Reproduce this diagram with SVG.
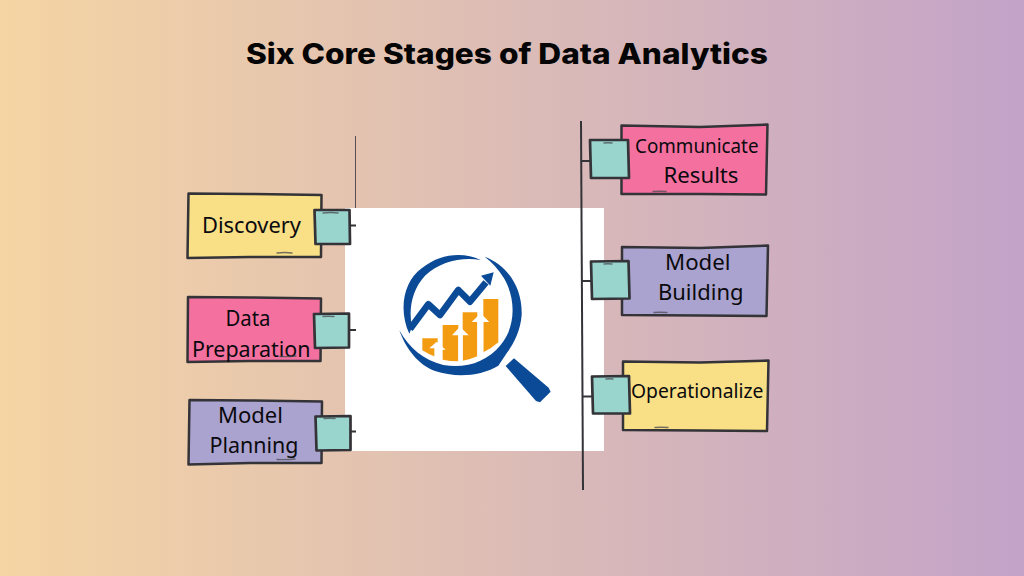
<svg xmlns="http://www.w3.org/2000/svg" width="1024" height="576" viewBox="0 0 1024 576">
<style>
.note{stroke:#333338;stroke-width:2.500;stroke-linejoin:round}
.tab{fill:#99d5cc;stroke:#333338;stroke-width:2.700;stroke-linejoin:round}
.mark{fill:none;stroke:#4a4a50;stroke-width:1.400;stroke-linecap:round;opacity:.75}
.conn{fill:none;stroke:#333338;stroke-width:2}
.yellow{fill:#f9df85}.pink{fill:#f4719f}.violet{fill:#aba3cf}
.lbl{font-family:"Noto Sans","Open Sans",sans-serif;font-size:22px;fill:#0a0a0e}
.title{font-family:Inter,"Liberation Sans",sans-serif;font-weight:800;font-size:28px;fill:#050505}
.blue{fill:#0b4a96}.orange{fill:#f39c12}
</style>
<defs>
<linearGradient id="bg" x1="0" y1="0" x2="1" y2="0">
<stop offset="0" stop-color="#f5d5a3"/><stop offset="1" stop-color="#c3a3c8"/>
</linearGradient>
</defs>
<rect id="background" width="1024" height="576" fill="url(#bg)"/>
<text id="title" class="title" x="246" y="63.500" textLength="522" lengthAdjust="spacingAndGlyphs">Six Core Stages of Data Analytics</text>
<line x1="355.500" y1="136" x2="355.500" y2="210" stroke="#55504f" stroke-width="1"/>
<g id="logo">
<rect x="345" y="208" width="259" height="243" fill="#fff"/>
<g transform="translate(390 245) scale(.3333)">
<path class="blue" d="M58 266C25 195 40 110 95 70C150 25 220 20 272 45C215 35 150 50 105 92C65 135 55 195 66 246Z"/>
<path class="blue" d="M284 35C355 62 398 130 395 210C392 255 372 295 352 322L325 362C270 395 195 398 135 378C85 360 48 312 28 256C58 310 100 345 160 360C225 372 290 352 332 300C378 245 378 160 342 100C325 72 305 50 284 35Z"/>
<polyline points="60,252 115,178 150,210 205,135 240,170 288,112" fill="none" stroke="#0b4a96" stroke-width="20" stroke-linejoin="round"/>
<polygon class="blue" points="273,92 311,82 301,122"/>
<path class="orange" d="M97 280H143V338Q118 330 97 316Z"/>
<path class="orange" d="M158 240H205V349Q180 349 158 344Z"/>
<path class="orange" d="M218 202H262V334Q240 344 218 347Z"/>
<path class="orange" d="M280 162H325V292Q305 310 280 322Z"/>
<polygon points="140,290 167,314 146,314 146,345 133,345 133,310 118,310" fill="#fff"/>
<polygon points="210,245 236,271 218,271 218,352 205,352 205,271 186,271" fill="#fff"/>
<polygon points="272,205 298,231 280,231 280,340 262,340 262,231 245,231" fill="#fff"/>
<polygon class="blue" points="347,363 372,340 476,428 482,440 450,472 438,468"/>
</g>
</g>
<g id="connectors">
<path class="conn" d="M349 225.500H356M349 330H356M350 431.500H356"/>
<path class="conn" d="M581 121L583 490" stroke-width="2.200"/>
<path class="conn" d="M581 161H591M581.500 281H592M582 396.500H593"/>
</g>
<g id="discovery">
<polygon class="note yellow" points="188.500,193.500 250,194 321.500,195 321,257 250,257 187.500,258"/>
<path class="mark" d="M277 253Q285 252 292 253"/>
<polygon class="tab" points="314.500,210 349.500,210 350,244 315.500,244"/>
<path class="mark" d="M323 213Q331 212 338 213" stroke-width="2"/>
<text class="lbl" x="202" y="233" textLength="99" lengthAdjust="spacingAndGlyphs">Discovery</text>
</g>
<g id="data-preparation">
<polygon class="note pink" points="188,297 250,297.500 321,298.500 320.500,361 250,361 187.500,362"/>
<polygon class="tab" points="314,314 349,313.500 349,347.500 315,348"/>
<path class="mark" d="M323 316.500Q328 316 334 316.500" stroke-width="2"/>
<text class="lbl" x="225.500" y="326" textLength="45" lengthAdjust="spacingAndGlyphs">Data</text>
<text class="lbl" x="192" y="357" textLength="118.500" lengthAdjust="spacingAndGlyphs">Preparation</text>
<path class="mark" d="M280 356.500Q288 357 296 356"/>
</g>
<g id="model-planning">
<polygon class="note violet" points="189.500,400 250,400.500 322,401.500 321.500,463 250,463 188.500,464.500"/>
<polygon class="tab" points="315.500,416.500 350.500,416 350.500,450 316.500,450.500"/>
<path class="mark" d="M324 418.500Q329 418 335 418.500" stroke-width="2"/>
<text class="lbl" x="218" y="423" textLength="65" lengthAdjust="spacingAndGlyphs">Model</text>
<text class="lbl" x="209.500" y="453" textLength="89" lengthAdjust="spacingAndGlyphs">Planning</text>
<path class="mark" d="M277 459.500Q286 460 295 459"/>
</g>
<g id="communicate-results">
<polygon class="note pink" points="621.500,125.500 700,127 767.500,124.500 766,194.500 700,194 621.500,194"/>
<path class="mark" d="M653 191.500Q659 191 666 191.500"/>
<polygon class="tab" points="590,140 628,140 629,178 591,178"/>
<path class="mark" d="M604 143Q608 142.500 612 143" stroke-width="2"/>
<text class="lbl" x="635" y="153" textLength="123.500" lengthAdjust="spacingAndGlyphs" style="font-size:20px">Communicate</text>
<text class="lbl" x="663.500" y="183" textLength="75" lengthAdjust="spacingAndGlyphs">Results</text>
</g>
<g id="model-building">
<polygon class="note violet" points="622,247 700,248 768,245.500 766.500,316 700,315.500 622,315"/>
<path class="mark" d="M654 312.500Q660 312 667 312.500"/>
<polygon class="tab" points="591,261.500 628.500,261 629.500,298.500 592,299"/>
<path class="mark" d="M604 264Q608 263.500 612 264" stroke-width="2"/>
<text class="lbl" x="665" y="270" textLength="65.500" lengthAdjust="spacingAndGlyphs">Model</text>
<text class="lbl" x="658" y="300" textLength="85.500" lengthAdjust="spacingAndGlyphs">Building</text>
</g>
<g id="operationalize">
<polygon class="note yellow" points="623,361.500 700,362.500 768.500,360.500 767,431 700,430.500 623,430"/>
<path class="mark" d="M655 427.500Q661 427 668 427.500"/>
<polygon class="tab" points="592,376.500 629,376 630,413.500 593,413.500"/>
<path class="mark" d="M606 379Q609 378.500 613 379" stroke-width="2"/>
<text class="lbl" x="631" y="398" textLength="132.500" lengthAdjust="spacingAndGlyphs" style="font-size:20px">Operationalize</text>
</g>
</svg>
